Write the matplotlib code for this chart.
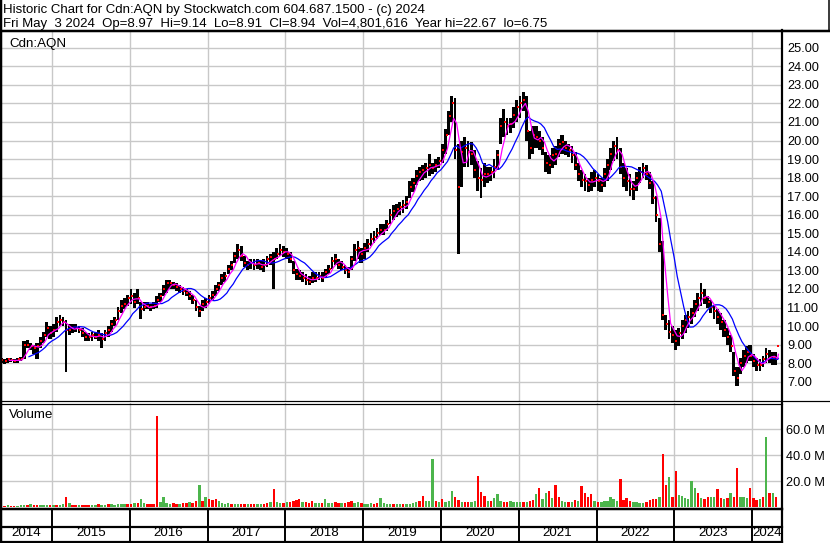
import matplotlib
matplotlib.use("Agg")
import matplotlib.pyplot as plt
import matplotlib.dates as mdates
import numpy as np
import pandas as pd

plt.rcParams['font.family'] = ['Liberation Sans', 'DejaVu Sans']

# ---------------- texts ----------------
TITLE = "Historic Chart for Cdn:AQN by Stockwatch.com 604.687.1500 - (c) 2024"
SUBTITLE = ("Fri May  3 2024  Op=8.97  Hi=9.14  Lo=8.91  Cl=8.94  "
            "Vol=4,801,616  Year hi=22.67  lo=6.75")
SYMBOL = "Cdn:AQN"
VOLUME_LABEL = "Volume"
year_labels = [2014, 2015, 2016, 2017, 2018, 2019, 2020, 2021, 2022, 2023, 2024]
price_ticks = [7, 8, 9, 10, 11, 12, 13, 14, 15, 16, 17, 18, 19, 20, 21, 22, 23, 24, 25]
volume_ticks = [20, 40, 60]          # millions

# ---------------- half-month price data (low, high, close) ----------------
price_2014 = [  # May .. Dec
    (8.00, 8.30, 8.15), (7.95, 8.25, 8.10),
    (8.00, 8.30, 8.20), (8.05, 8.30, 8.15),
    (8.00, 8.25, 8.10), (8.00, 8.30, 8.20),
    (8.10, 8.35, 8.25), (8.20, 9.20, 9.00),
    (8.80, 9.25, 9.00), (8.70, 9.10, 8.90),
    (8.50, 9.00, 8.80), (8.20, 9.10, 8.90),
    (8.80, 9.40, 9.20), (9.10, 9.70, 9.50),
    (9.40, 10.20, 9.90), (9.30, 10.00, 9.60),
]
price_2015 = [
    (9.40, 10.10, 9.80), (9.70, 10.50, 10.20),
    (10.00, 10.60, 10.30), (10.00, 10.50, 10.20),
    (7.50, 10.30, 9.80), (9.50, 10.10, 9.80),
    (9.60, 10.10, 9.90), (9.70, 10.10, 9.90),
    (9.60, 10.00, 9.80), (9.40, 9.90, 9.60),
    (9.20, 9.70, 9.40), (9.20, 9.60, 9.40),
    (9.20, 9.70, 9.50), (9.30, 9.70, 9.40),
    (9.20, 9.80, 9.50), (8.80, 9.60, 9.30),
    (9.20, 9.80, 9.60), (9.40, 10.00, 9.80),
    (9.70, 10.30, 10.10), (10.00, 10.50, 10.30),
    (10.30, 11.00, 10.80), (10.70, 11.40, 11.10),
    (10.90, 11.50, 11.20), (11.10, 11.70, 11.50),
]
price_2016 = [
    (11.20, 12.00, 11.60), (11.00, 11.80, 11.30),
    (11.20, 12.00, 11.50), (10.40, 11.30, 10.90),
    (10.80, 11.30, 11.00), (10.90, 11.30, 11.10),
    (10.80, 11.20, 11.00), (10.90, 11.30, 11.10),
    (11.00, 11.60, 11.40), (11.30, 11.80, 11.60),
    (11.60, 12.20, 12.00), (11.80, 12.50, 12.30),
    (12.00, 12.50, 12.30), (12.00, 12.40, 12.20),
    (11.90, 12.30, 12.10), (11.80, 12.20, 12.00),
    (11.70, 12.10, 11.90), (11.60, 12.00, 11.80),
    (11.40, 11.90, 11.60), (11.20, 11.70, 11.40),
    (10.80, 11.40, 11.00), (10.50, 11.10, 10.80),
    (10.80, 11.40, 11.20), (11.00, 11.50, 11.30),
]
price_2017 = [
    (11.20, 11.70, 11.50), (11.40, 11.90, 11.70),
    (11.60, 12.20, 12.00), (11.90, 12.40, 12.20),
    (12.20, 12.80, 12.60), (12.40, 12.90, 12.70),
    (12.80, 13.30, 13.10), (13.00, 13.50, 13.30),
    (13.40, 14.00, 13.80), (13.60, 14.40, 14.10),
    (13.50, 14.30, 13.80), (13.20, 13.80, 13.40),
    (13.00, 13.50, 13.30), (13.10, 13.60, 13.40),
    (13.00, 13.60, 13.30), (13.10, 13.60, 13.40),
    (13.00, 13.50, 13.20), (12.90, 13.60, 13.30),
    (13.20, 13.80, 13.60), (13.30, 13.90, 13.70),
    (12.00, 14.00, 13.60), (13.60, 14.20, 13.90),
    (13.80, 14.40, 14.10), (13.70, 14.30, 14.00),
]
price_2018 = [
    (13.60, 14.20, 13.90), (13.40, 14.00, 13.60),
    (12.80, 13.50, 13.00), (12.50, 13.10, 12.80),
    (12.50, 13.00, 12.70), (12.40, 12.90, 12.60),
    (12.20, 12.80, 12.50), (12.20, 12.70, 12.40),
    (12.30, 12.90, 12.60), (12.40, 12.90, 12.60),
    (12.50, 12.90, 12.70), (12.40, 12.90, 12.60),
    (12.60, 13.10, 12.90), (12.80, 13.30, 13.10),
    (13.10, 13.70, 13.50), (13.30, 13.90, 13.60),
    (13.10, 13.60, 13.30), (13.00, 13.50, 13.20),
    (12.80, 13.30, 13.00), (12.60, 13.20, 12.90),
    (13.00, 13.80, 13.60), (13.50, 14.40, 14.10),
    (13.60, 14.60, 14.20), (13.40, 14.20, 13.90),
]
price_2019 = [
    (13.60, 14.50, 14.20), (14.00, 14.70, 14.40),
    (14.30, 15.00, 14.70), (14.50, 15.10, 14.80),
    (14.70, 15.30, 15.00), (14.90, 15.50, 15.20),
    (14.90, 15.50, 15.20), (15.10, 15.70, 15.50),
    (15.50, 16.30, 16.00), (15.70, 16.50, 16.20),
    (15.90, 16.60, 16.30), (16.00, 16.70, 16.40),
    (16.10, 16.80, 16.50), (16.30, 17.00, 16.70),
    (16.90, 17.80, 17.50), (17.20, 18.00, 17.70),
    (17.60, 18.40, 18.10), (17.80, 18.60, 18.30),
    (17.90, 18.70, 18.40), (18.00, 18.80, 18.50),
    (18.10, 19.30, 18.70), (18.20, 18.80, 18.50),
    (18.30, 19.00, 18.70), (18.50, 19.10, 18.90),
]
price_2020 = [
    (18.80, 19.80, 19.50), (19.30, 20.60, 20.30),
    (20.30, 21.60, 21.30), (21.00, 22.40, 22.00),
    (19.00, 22.30, 19.50), (13.90, 19.80, 17.50),
    (17.50, 20.00, 19.40), (18.60, 20.20, 19.60),
    (18.60, 20.00, 19.40), (18.70, 19.90, 19.30),
    (18.00, 19.50, 18.40), (17.30, 18.90, 18.00),
    (16.90, 18.50, 17.90), (17.50, 18.80, 18.20),
    (17.70, 18.60, 18.20), (17.80, 18.60, 18.30),
    (18.00, 19.00, 18.60), (18.40, 19.50, 19.20),
    (19.80, 21.20, 20.80), (20.20, 21.70, 21.00),
    (20.30, 21.20, 20.80), (20.40, 21.20, 20.90),
    (20.70, 21.80, 21.40), (21.00, 22.20, 21.80),
]
price_2021 = [
    (21.20, 22.40, 22.00), (21.60, 22.60, 22.20),
    (20.00, 22.40, 20.50), (19.00, 20.50, 19.60),
    (19.30, 20.80, 20.30), (19.60, 20.80, 20.20),
    (19.50, 20.50, 20.00), (19.20, 20.20, 19.60),
    (18.30, 19.40, 18.80), (18.20, 19.20, 18.70),
    (18.50, 19.60, 19.20), (18.70, 19.70, 19.30),
    (19.10, 20.10, 19.80), (19.30, 20.30, 19.90),
    (19.20, 20.00, 19.60), (19.10, 19.80, 19.50),
    (18.80, 19.70, 19.20), (18.40, 19.40, 18.70),
    (17.80, 18.80, 18.20), (17.50, 18.40, 17.90),
    (17.30, 18.20, 17.80), (17.20, 18.00, 17.60),
    (17.30, 18.30, 17.90), (17.50, 18.40, 18.00),
]
price_2022 = [
    (17.30, 18.20, 17.80), (17.20, 18.00, 17.60),
    (17.50, 18.50, 18.20), (17.80, 19.00, 18.70),
    (18.40, 19.60, 19.30), (18.90, 20.00, 19.70),
    (19.00, 20.20, 19.50), (18.20, 19.60, 18.60),
    (17.50, 18.80, 18.00), (17.30, 18.50, 17.80),
    (17.00, 18.20, 17.40), (16.80, 17.80, 17.40),
    (17.30, 18.30, 18.00), (17.70, 18.60, 18.30),
    (18.00, 18.80, 18.50), (17.90, 18.70, 18.20),
    (17.40, 18.30, 17.70), (16.60, 17.80, 16.90),
    (15.60, 17.00, 16.00), (14.00, 15.80, 14.40),
    (10.30, 14.60, 10.60), (9.80, 10.60, 10.10),
    (9.30, 10.30, 9.70), (9.10, 10.00, 9.50),
]
price_2023 = [
    (8.70, 9.80, 9.20), (8.90, 9.90, 9.60),
    (9.30, 10.30, 10.00), (9.60, 10.60, 10.30),
    (9.90, 10.80, 10.50), (10.10, 11.00, 10.70),
    (10.50, 11.40, 11.20), (10.80, 11.80, 11.50),
    (11.10, 12.30, 11.80), (11.20, 12.00, 11.50),
    (11.00, 11.60, 11.30), (10.70, 11.40, 11.00),
    (10.40, 11.10, 10.80), (10.10, 10.90, 10.50),
    (9.80, 10.70, 10.20), (9.40, 10.30, 9.80),
    (9.00, 9.90, 9.40), (8.60, 9.50, 8.90),
    (7.30, 8.60, 7.60), (6.75, 7.80, 7.20),
    (7.40, 8.30, 8.00), (7.80, 8.70, 8.40),
    (8.00, 8.90, 8.60), (8.10, 9.00, 8.40),
]
price_2024 = [  # Jan .. May 3
    (7.80, 8.50, 8.10), (7.60, 8.30, 7.90),
    (7.60, 8.20, 7.90), (7.80, 8.40, 8.20),
    (8.00, 8.80, 8.50), (8.00, 8.70, 8.30),
    (7.90, 8.60, 8.30), (7.90, 8.60, 8.20),
    (8.50, 9.20, 8.94),
]

# ---------------- half-month volume (millions) ----------------
vol_2014 = [1.0, 0.8, 1.2, 1.0, 0.9, 1.1, 1.3, 1.5, 1.2, 2.3, 1.4, 1.2, 1.3, 1.6, 1.8, 1.4]
vol_2015 = [1.5, 1.8, 1.6, 2.0, 8.0, 3.0, 1.6, 1.4, 1.5, 1.3, 1.8, 1.6,
            1.4, 1.9, 2.2, 1.7, 1.6, 2.3, 2.3, 1.8, 2.4, 2.1, 2.6, 2.0]
vol_2016 = [2.5, 3.3, 3.0, 5.9, 2.8, 2.4, 2.2, 2.6, 70.0, 3.5, 7.9, 3.0,
            2.5, 2.8, 2.4, 2.6, 3.0, 3.2, 3.5, 3.0, 4.5, 17.0, 5.0, 8.0]
vol_2017 = [6.5, 5.5, 6.0, 4.6, 3.0, 2.5, 2.8, 2.4, 2.6, 2.2, 2.5, 2.4,
            2.0, 2.3, 2.6, 2.2, 2.4, 2.5, 2.8, 4.0, 13.8, 3.8, 3.0, 3.4]
vol_2018 = [3.5, 4.0, 4.5, 5.5, 6.0, 4.2, 3.6, 3.2, 4.6, 3.0, 2.8, 3.2,
            6.0, 3.4, 3.0, 3.5, 2.8, 3.0, 3.4, 3.6, 4.9, 3.2, 3.8, 3.0]
vol_2019 = [2.6, 2.2, 2.8, 2.5, 3.0, 7.0, 3.2, 2.4, 2.6, 2.2, 2.4, 2.0,
            2.6, 2.2, 2.4, 2.8, 3.5, 4.5, 8.5, 5.0, 4.5, 37.0, 4.9, 3.5]
vol_2020 = [5.9, 4.0, 4.5, 12.5, 7.4, 5.5, 4.0, 3.5, 3.8, 4.2, 5.0, 24.0,
            11.5, 8.4, 4.5, 5.0, 6.7, 10.0, 5.0, 4.2, 3.8, 4.5, 3.5, 4.0]
vol_2021 = [3.6, 4.0, 4.2, 4.6, 5.5, 10.0, 14.6, 6.0, 11.0, 12.5, 7.0, 17.0,
            7.4, 4.5, 4.0, 3.8, 4.2, 5.4, 5.0, 16.0, 10.5, 8.0, 9.7, 4.5]
vol_2022 = [4.0, 3.5, 4.5, 5.0, 8.0, 6.0, 5.0, 21.5, 5.5, 6.7, 4.5, 4.0,
            3.5, 2.8, 3.0, 3.5, 5.5, 6.0, 6.5, 7.4, 40.7, 17.0, 22.8, 8.0]
vol_2023 = [27.9, 9.0, 8.5, 7.0, 6.5, 20.0, 14.3, 10.5, 7.0, 6.5, 8.0, 7.5,
            8.0, 13.6, 7.0, 6.5, 7.0, 11.0, 8.0, 30.0, 7.5, 7.5, 7.0, 15.0]
vol_2024 = [6.7, 5.5, 6.0, 8.0, 53.5, 10.5, 11.0, 8.0, 10.0]

# up (u) / down (d) flag of the dominant day in each half-month, two per month
dir_2014 = "dd ud du uu du dd uu ud"
dir_2015 = "ud uu du dd ud dd uu du ud uu uu ud"
dir_2016 = "du du ud dd du uu ud du dd ud du du"
dir_2017 = "dd du uu ud uu dd ud du ud du du ud"
dir_2018 = "ud dd du dd du ud uu ud du dd du ud"
dir_2019 = "uu ud du uu ud uu du uu ud du uu du"
dir_2020 = "du uu dd ud du ud dd ud uu ud du uu"
dir_2021 = "ud ud du du ud ud du ud ud ud dd du"
dir_2022 = "du uu uu ud dd du uu ud dd du dd ud"
dir_2023 = "du uu uu ud ud du ud du du dd uu ud"
dir_2024 = "dd ud ud ud u"

# moving-average lengths in half-month periods (~30-day and ~90-day)
FAST_MA = 3
SLOW_MA = 9

# ---------------- assemble ----------------
periods = pd.date_range("2014-05-01", "2024-05-01", freq="SMS")
price = (price_2014 + price_2015 + price_2016 + price_2017 + price_2018 + price_2019
         + price_2020 + price_2021 + price_2022 + price_2023 + price_2024)
lows = np.array([p[0] for p in price])
highs = np.array([p[1] for p in price])
closes = np.array([p[2] for p in price])
vol = np.array(vol_2014 + vol_2015 + vol_2016 + vol_2017 + vol_2018 + vol_2019
               + vol_2020 + vol_2021 + vol_2022 + vol_2023 + vol_2024)
dirs = "".join(s.replace(" ", "") for s in [dir_2014, dir_2015, dir_2016, dir_2017,
                                             dir_2018, dir_2019, dir_2020, dir_2021,
                                             dir_2022, dir_2023, dir_2024])
n = len(periods)
assert len(price) == n and len(vol) == n and len(dirs) == n, (len(price), len(vol), len(dirs), n)

starts = mdates.date2num(periods)
ends = np.append(starts[1:], mdates.date2num(pd.Timestamp("2024-05-04")))
widths = ends - starts
ma_fast = pd.Series(closes).rolling(FAST_MA).mean().values
ma_slow = pd.Series(closes).rolling(SLOW_MA).mean().values

UP = "#4cb54c"
DOWN = "#ff0000"
GRID = "#c8c8c8"

# ---------------- figure geometry (pixels) ----------------
W, H = 830, 543
DPI = 100
fig = plt.figure(figsize=(W / DPI, H / DPI), dpi=DPI)
fig.patch.set_facecolor("white")

def frac(x0, y0, x1, y1):
    return [x0 / W, 1 - y1 / H, (x1 - x0) / W, (y1 - y0) / H]

PLOT_R = 782
d2015 = mdates.date2num(pd.Timestamp("2015-01-01"))
px_per_day = 77.78 / 365.25
xlim = (d2015 - 52 / px_per_day, d2015 + (PLOT_R - 52) / px_per_day)
year_starts = [mdates.date2num(pd.Timestamp(f"{y}-01-01")) for y in year_labels[1:]]

# price panel
axp = fig.add_axes(frac(0, 31, PLOT_R, 401))
axp.set_xlim(*xlim)
axp.set_ylim(7 - (401 - 381.7) / 18.55, 7 + (381.7 - 31) / 18.55)
axp.bar(starts, highs - lows, bottom=lows, width=widths * 0.9, align="edge",
        color="black", linewidth=0, zorder=3)
axp.plot(ends - widths * 0.25, closes, ls="", marker="s", ms=1.6, mew=0,
         color="red", zorder=4)
axp.plot(ends, ma_slow, color="#0000ff", lw=0.9, zorder=5)
axp.plot(ends, ma_fast, color="#ff00ff", lw=0.9, zorder=6)
axp.set_yticks(price_ticks)
axp.set_yticklabels([f"{t:.2f}" for t in price_ticks])
axp.yaxis.tick_right()
axp.tick_params(axis="y", length=0, pad=3.6, labelsize=9.2, labelcolor="black")
axp.set_xticks(year_starts)
axp.tick_params(axis="x", length=0, labelbottom=False)
axp.grid(True, color=GRID, lw=1.0, zorder=0)
axp.set_axisbelow(True)
for s in axp.spines.values():
    s.set_visible(False)

# volume panel
axv = fig.add_axes(frac(0, 403, PLOT_R, 507))
axv.set_xlim(*xlim)
axv.set_ylim(0, 80)
vcolors = [UP if c == "u" else DOWN for c in dirs]
axv.bar(starts + widths * 0.1, vol, width=widths * 0.75, align="edge",
        color=vcolors, linewidth=0, zorder=3)
axv.set_yticks(volume_ticks)
axv.set_yticklabels([f"{t:.1f} M" for t in volume_ticks])
axv.yaxis.tick_right()
axv.tick_params(axis="y", length=0, pad=3.2, labelsize=9.2, labelcolor="black")
axv.set_xticks(year_starts)
axv.tick_params(axis="x", length=0, labelbottom=False)
axv.grid(True, color=GRID, lw=1.0, zorder=0)
axv.set_axisbelow(True)
for s in axv.spines.values():
    s.set_visible(False)

# year strip
axs = fig.add_axes(frac(0, 509, PLOT_R, 541))
axs.set_xlim(*xlim)
axs.set_ylim(0, 1)
axs.axis("off")
for ys in year_starts:
    axs.axvline(ys, color="black", lw=1.4)
bounds = [xlim[0]] + year_starts + [xlim[1]]
for i, y in enumerate(year_labels):
    axs.text((bounds[i] + bounds[i + 1]) / 2, 0.24, str(y), ha="center", va="center",
             fontsize=9.6, color="black")

# frame lines and header (pixel overlay)
ov = fig.add_axes([0, 0, 1, 1], zorder=10)
ov.set_xlim(0, W)
ov.set_ylim(H, 0)
ov.axis("off")
ov.patch.set_alpha(0)
px = 0.72  # points per pixel
ov.plot([0, W], [30.5, 30.5], color="black", lw=2.5 * px)
ov.plot([828.5, 828.5], [0, 30], color="black", lw=1.5 * px)
ov.plot([PLOT_R, PLOT_R], [30, 542], color="black", lw=2.2 * px)
ov.plot([0, W], [401.0, 401.0], color="black", lw=1.2 * px)
ov.plot([0, PLOT_R], [403.5, 403.5], color="black", lw=1.2 * px)
ov.plot([0, PLOT_R], [509.0, 509.0], color="black", lw=2.5 * px)
ov.plot([0, PLOT_R], [526.5, 526.5], color="black", lw=2.2 * px)
ov.plot([0, PLOT_R], [541.5, 541.5], color="black", lw=2.2 * px)
ov.plot([1.0, 1.0], [0, 543], color="black", lw=2.5 * px)

t1 = ov.text(3, 12.8, TITLE, ha="left", va="baseline", fontsize=10, color="#000000")
t2 = ov.text(3, 26.8, SUBTITLE, ha="left", va="baseline", fontsize=10, color="#000000")
ov.text(9, 46.5, SYMBOL, ha="left", va="baseline", fontsize=9.6, color="black")
ov.text(9, 417.5, VOLUME_LABEL, ha="left", va="baseline", fontsize=9.6, color="black")

renderer = fig.canvas.get_renderer()
for t, target in [(t1, 426), (t2, 547)]:
    w = t.get_window_extent(renderer).width
    t.set_fontsize(t.get_fontsize() * target / w)

fig.savefig("out.png", dpi=DPI, facecolor="white")
